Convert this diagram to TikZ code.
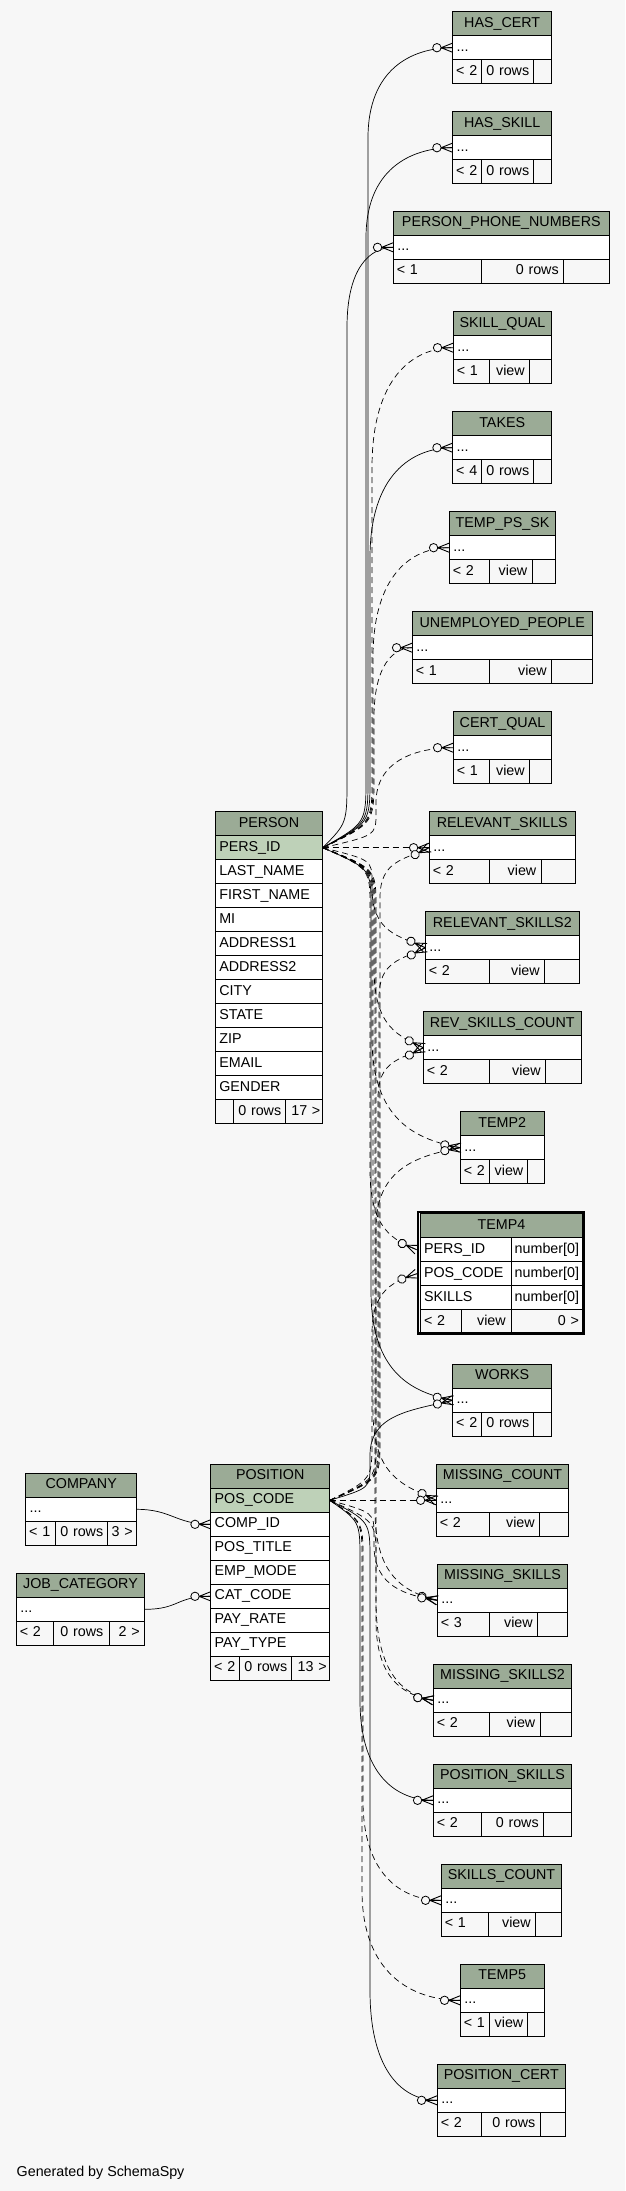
\documentclass[tikz,border=0pt]{standalone}
\usepackage{fontspec}
\setmainfont{Liberation Sans}
\newfontfamily\tabf{Liberation Sans}
\usetikzlibrary{calc,decorations.markings}
\definecolor{bg}{HTML}{F7F7F7}
\definecolor{hdr}{HTML}{9BAB96}
\definecolor{pkc}{HTML}{BED1B8}
\newcommand\tabfont{\tabf\fontsize{14.3}{16}\selectfont}
% cell: style, name, x, y, width, pad, text
\newcommand\mkcell[7]{\pgfmathsetmacro\cw{#5-2*#6}\node[cellb,#1,text width=\cw pt,inner xsep=#6pt] (#2) at (#3,#4) {\mbox{#7}};}
% simple table: name, x, y, w, title, c1, c2, f1, f2
\newcommand\mktbl[9]{%
  \pgfmathsetmacro\yb{#3+24}\pgfmathsetmacro\yc{#3+48}%
  \pgfmathsetmacro\xb{#2+#6}\pgfmathsetmacro\xc{#2+#6+#7}\pgfmathsetmacro\wc{#4-#6-#7}%
  \mkcell{hd}{#1-h}{#2}{#3}{#4}{3}{#5}%
  \mkcell{bd}{#1-r}{#2}{\yb}{#4}{4}{...}%
  \mkcell{ft,align=left}{#1-f1}{#2}{\yc}{#6}{3.5}{#8}%
  \mkcell{ft,align=right}{#1-f2}{\xb}{\yc}{#7}{5}{#9}%
  \mkcell{ft,align=right}{#1-f3}{\xc}{\yc}{\wc}{5}{}%
}
\newcommand\crowdot{%
  \draw[solid,line width=0.9pt] (-11.5pt,0pt) -- (0pt,4.6pt) (-11.5pt,0pt) -- (0pt,-4.6pt) (-11.5pt,0pt) -- (0pt,0pt);
  \draw[solid,line width=0.8pt,fill=bg] (-15.7pt,0pt) circle (4.2pt);}
% edge: style, source, target, lane x, dir (+1 up / -1 down), r1, r2, arrival tilt
\newcommand\fkedge[8]{%
  \draw[#1] let \p1=(#2), \p2=(#3) in
   (\p1) .. controls (#4pt,{\y1+(#5)*0.35*(#6)*1pt}) .. (#4pt,{\y1+(#5)*(#6)*1pt})
   -- (#4pt,{\y2-(#5)*(#7)*1pt})
   .. controls (#4pt,{\y2-(#5)*(#7)*0.25pt}) and ({0.5*(#4pt+\x2)},{\y2-(#5)*(#8)*1pt}) .. (\p2);}
\begin{document}
\begin{tikzpicture}[x=1pt,y=-1pt,
  cellb/.style={draw,line width=0.8pt,anchor=north west,minimum height=24pt,inner ysep=0pt,
    text height=10.5pt,text depth=3.5pt,font=\tabfont,fill=white,outer sep=0pt},
  hd/.style={fill=hdr,align=center},
  pk/.style={fill=pkc,align=left},
  bd/.style={fill=white,align=left},
  ft/.style={fill=bg},
  fk/.style={line width=0.7pt,postaction={decorate},
    decoration={markings,mark=at position 0.9999 with {\crowdot}}},
  fkd/.style={fk,dash pattern=on 6pt off 4pt}]
\fill[bg] (0,0) rectangle (625,2191);
\useasboundingbox (0,0) rectangle (625,2191);

% right column tables
\mktbl{hascert}{452.7}{11.7}{99}{HAS\_CERT}{28.6}{52.4}{< 2}{0 rows}
\mktbl{hasskill}{452.7}{111.7}{99}{HAS\_SKILL}{28.6}{52.4}{< 2}{0 rows}
\mktbl{ppn}{393.3}{211.3}{216}{PERSON\_PHONE\_NUMBERS}{88}{82.4}{< 1}{0 rows}
\mktbl{skillqual}{453.3}{311.7}{98.4}{SKILL\_QUAL}{36}{40.4}{< 1}{view}
\mktbl{takes}{452.7}{411.7}{99}{TAKES}{28.6}{52.4}{< 4}{0 rows}
\mktbl{tempps}{449.3}{511.7}{106.4}{TEMP\_PS\_SK}{40}{43}{< 2}{view}
\mktbl{unemp}{412.3}{611.7}{180}{UNEMPLOYED\_PEOPLE}{77}{62.4}{< 1}{view}
\mktbl{certqual}{453.3}{711.7}{98.4}{CERT\_QUAL}{36}{40.4}{< 1}{view}
\mktbl{relsk}{429.3}{811.7}{146}{RELEVANT\_SKILLS}{60}{52}{< 2}{view}
\mktbl{relsk2}{425.3}{911.7}{154}{RELEVANT\_SKILLS2}{64}{55.4}{< 2}{view}
\mktbl{revsk}{423.3}{1011.7}{158}{REV\_SKILLS\_COUNT}{66}{56.4}{< 2}{view}
\mktbl{temp2}{460.3}{1111.7}{84}{TEMP2}{29.4}{37.6}{< 2}{view}
\mktbl{works}{452.7}{1364.3}{99}{WORKS}{28.6}{52.4}{< 2}{0 rows}
\mktbl{misscnt}{436.3}{1464.3}{132.4}{MISSING\_COUNT}{53}{50.4}{< 2}{view}
\mktbl{misssk}{437.3}{1564.3}{130.4}{MISSING\_SKILLS}{52}{48.4}{< 3}{view}
\mktbl{misssk2}{433.3}{1664.3}{138.4}{MISSING\_SKILLS2}{56}{51}{< 2}{view}
\mktbl{possk}{433.3}{1764.3}{138.4}{POSITION\_SKILLS}{48}{62.4}{< 2}{0 rows}
\mktbl{skcnt}{441.3}{1864.3}{120.4}{SKILLS\_COUNT}{47.4}{47}{< 1}{view}
\mktbl{temp5}{460.3}{1964.3}{84}{TEMP5}{29.4}{37.6}{< 1}{view}
\mktbl{poscert}{437.3}{2064.3}{128}{POSITION\_CERT}{44}{59}{< 2}{0 rows}

% TEMP4 (focus table)
\mkcell{hd}{t4-h}{420}{1213.7}{163}{4}{TEMP4}
\mkcell{bd}{t4-persid}{420}{1237.7}{91.7}{4}{PERS\_ID}
\mkcell{bd}{t4-persid-t}{511.7}{1237.7}{71.3}{3}{number[0]}
\mkcell{bd}{t4-poscode}{420}{1261.7}{91.7}{4}{POS\_CODE}
\mkcell{bd}{t4-poscode-t}{511.7}{1261.7}{71.3}{3}{number[0]}
\mkcell{bd}{t4-skills}{420}{1285.7}{91.7}{4}{SKILLS}
\mkcell{bd}{t4-skills-t}{511.7}{1285.7}{71.3}{3}{number[0]}
\mkcell{ft,align=left}{t4-f1}{420}{1309.7}{41.7}{4}{< 2}
\mkcell{ft,align=right}{t4-f2}{461.7}{1309.7}{50}{6}{view}
\mkcell{ft,align=right}{t4-f3}{511.7}{1309.7}{71.3}{4}{0 >}
\draw[line width=2.7pt] (418.05,1212.05) rectangle (583.65,1333.65);
\coordinate (t4in1) at ([xshift=-3.3pt]t4-persid.west);
\coordinate (t4in2) at ([xshift=-3.3pt]t4-poscode.west);

% PERSON
\mkcell{hd}{person-h}{215.3}{811.7}{107.4}{4}{PERSON}
\mkcell{pk}{person-pk}{215.3}{835.7}{107.4}{4}{PERS\_ID}
\mkcell{bd}{person-c1}{215.3}{859.7}{107.4}{4}{LAST\_NAME}
\mkcell{bd}{person-c2}{215.3}{883.7}{107.4}{4}{FIRST\_NAME}
\mkcell{bd}{person-c3}{215.3}{907.7}{107.4}{4}{MI}
\mkcell{bd}{person-c4}{215.3}{931.7}{107.4}{4}{ADDRESS1}
\mkcell{bd}{person-c5}{215.3}{955.7}{107.4}{4}{ADDRESS2}
\mkcell{bd}{person-c6}{215.3}{979.7}{107.4}{4}{CITY}
\mkcell{bd}{person-c7}{215.3}{1003.7}{107.4}{4}{STATE}
\mkcell{bd}{person-c8}{215.3}{1027.7}{107.4}{4}{ZIP}
\mkcell{bd}{person-c9}{215.3}{1051.7}{107.4}{4}{EMAIL}
\mkcell{bd}{person-c10}{215.3}{1075.7}{107.4}{4}{GENDER}
\mkcell{ft,align=left}{person-f1}{215.3}{1099.7}{18}{3}{}
\mkcell{ft,align=right}{person-f2}{233.3}{1099.7}{52}{5}{0 rows}
\mkcell{ft,align=right}{person-f3}{285.3}{1099.7}{37.4}{6}{17 >}

% POSITION
\mkcell{hd}{position-h}{210.7}{1464.3}{119}{4}{POSITION}
\mkcell{pk}{position-pk}{210.7}{1488.3}{119}{4}{POS\_CODE}
\mkcell{bd}{position-comp}{210.7}{1512.3}{119}{4}{COMP\_ID}
\mkcell{bd}{position-c2}{210.7}{1536.3}{119}{4}{POS\_TITLE}
\mkcell{bd}{position-c3}{210.7}{1560.3}{119}{4}{EMP\_MODE}
\mkcell{bd}{position-cat}{210.7}{1584.3}{119}{4}{CAT\_CODE}
\mkcell{bd}{position-c5}{210.7}{1608.3}{119}{4}{PAY\_RATE}
\mkcell{bd}{position-c6}{210.7}{1632.3}{119}{4}{PAY\_TYPE}
\mkcell{ft,align=left}{position-f1}{210.7}{1656.3}{28.6}{3.5}{< 2}
\mkcell{ft,align=right}{position-f2}{239.3}{1656.3}{52.4}{5}{0 rows}
\mkcell{ft,align=right}{position-f3}{291.7}{1656.3}{38}{6}{13 >}

% COMPANY
\mkcell{hd}{company-h}{25.7}{1473.3}{111}{4}{COMPANY}
\mkcell{bd}{company-r}{25.7}{1497.3}{111}{4}{...}
\mkcell{ft,align=left}{company-f1}{25.7}{1521.3}{29.6}{3.5}{< 1}
\mkcell{ft,align=right}{company-f2}{55.3}{1521.3}{52}{5}{0 rows}
\mkcell{ft,align=right}{company-f3}{107.3}{1521.3}{29.4}{4}{3 >}

% JOB_CATEGORY
\mkcell{hd}{jobcat-h}{16.3}{1573.3}{128.4}{3}{JOB\_CATEGORY}
\mkcell{bd}{jobcat-r}{16.3}{1597.3}{128.4}{4}{...}
\mkcell{ft,align=left}{jobcat-f1}{16.3}{1621.3}{37}{3.5}{< 2}
\mkcell{ft,align=right}{jobcat-f2}{53.3}{1621.3}{56}{6}{0 rows}
\mkcell{ft,align=right}{jobcat-f3}{109.3}{1621.3}{35.4}{5}{2 >}

\node[font=\tabfont,anchor=base west,inner sep=0pt] (gen) at (16.5,2176) {Generated by SchemaSpy};

% connectors from PERSON.PERS_ID
\fkedge{fk}{person-pk.east}{hascert-r.west}{368}{1}{70}{90}{0}
\fkedge{fk}{person-pk.east}{hasskill-r.west}{366}{1}{70}{90}{0}
\fkedge{fk}{person-pk.east}{ppn-r.west}{347}{1}{70}{80}{0}
\fkedge{fkd}{person-pk.east}{skillqual-r.west}{372}{1}{70}{120}{0}
\fkedge{fk}{person-pk.east}{takes-r.west}{370}{1}{70}{110}{0}
\fkedge{fkd}{person-pk.east}{tempps-r.west}{373}{1}{70}{110}{0}
\fkedge{fkd}{person-pk.east}{unemp-r.west}{374}{1}{70}{70}{0}
\fkedge{fkd}{person-pk.east}{certqual-r.west}{376}{1}{35}{55}{0}
\draw[fkd] (person-pk.east) -- (relsk-r.west);
\fkedge{fkd}{person-pk.east}{relsk2-r.west}{372}{-1}{35}{60}{12}
\fkedge{fkd}{person-pk.east}{revsk-r.west}{374}{-1}{60}{80}{12}
\fkedge{fkd}{person-pk.east}{temp2-r.west}{372}{-1}{60}{110}{8}
\fkedge{fkd}{person-pk.east}{t4in1}{370}{-1}{60}{80}{10}
\fkedge{fk}{person-pk.east}{works-r.west}{371}{-1}{60}{110}{8}
\fkedge{fkd}{person-pk.east}{misscnt-r.west}{373}{-1}{60}{90}{15}
\fkedge{fkd}{person-pk.east}{misssk-r.west}{375}{-1}{60}{90}{8}
\fkedge{fkd}{person-pk.east}{misssk2-r.west}{376}{-1}{60}{100}{5}

% connectors from POSITION.POS_CODE
\fkedge{fkd}{position-pk.east}{relsk-r.west}{380}{1}{60}{50}{12}
\fkedge{fkd}{position-pk.east}{relsk2-r.west}{379}{1}{60}{50}{12}
\fkedge{fkd}{position-pk.east}{revsk-r.west}{378}{1}{60}{50}{12}
\fkedge{fkd}{position-pk.east}{temp2-r.west}{376}{1}{60}{80}{8}
\fkedge{fkd}{position-pk.east}{t4in2}{372}{1}{60}{60}{8}
\fkedge{fk}{position-pk.east}{works-r.west}{370}{1}{35}{55}{10}
\draw[fkd] (position-pk.east) -- (misscnt-r.west);
\fkedge{fkd}{position-pk.east}{misssk-r.west}{374}{-1}{35}{55}{5}
\fkedge{fkd}{position-pk.east}{misssk2-r.west}{376}{-1}{60}{80}{5}
\fkedge{fk}{position-pk.east}{possk-r.west}{360}{-1}{60}{100}{0}
\fkedge{fkd}{position-pk.east}{skcnt-r.west}{363}{-1}{60}{100}{0}
\fkedge{fkd}{position-pk.east}{temp5-r.west}{362}{-1}{60}{110}{0}
\fkedge{fk}{position-pk.east}{poscert-r.west}{370}{-1}{60}{110}{0}

% COMPANY / JOB_CATEGORY to POSITION
\draw[fk] (company-r.east) .. controls +(35,0) and +(-35,0) .. (position-comp.west);
\draw[fk] (jobcat-r.east) .. controls +(35,0) and +(-35,0) .. (position-cat.west);
\end{tikzpicture}
\end{document}
